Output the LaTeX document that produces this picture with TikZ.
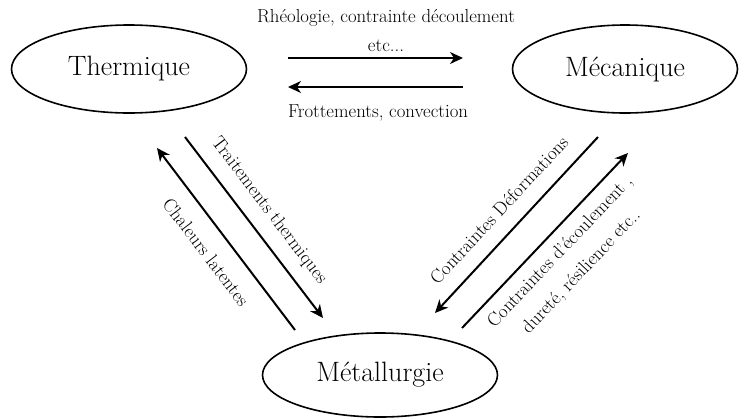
\documentclass[tikz,border=0pt]{standalone}
\usetikzlibrary{shapes.geometric,arrows.meta}
\begin{document}
\begin{tikzpicture}[x=1pt,y=-1pt,
  fieldbox/.style={draw,ellipse,line width=1.6pt,inner sep=0pt,font=\fontsize{28}{33}\selectfont},
  lbl/.style={font=\fontsize{18.8}{23}\selectfont,inner sep=0pt},
  flow/.style={line width=2pt,-{Stealth[length=13pt,width=12pt,inset=4pt]}}]
\useasboundingbox (0,0) rectangle (739,418);
\node[fieldbox,minimum width=235pt,minimum height=88pt] (th) at (129,69) {Thermique};
\node[fieldbox,minimum width=225pt,minimum height=88pt] (me) at (625,69) {Mécanique};
\node[fieldbox,minimum width=235pt,minimum height=84pt] (mt) at (380,375) {Métallurgie};
% top arrows
\coordinate (t1a) at (288,58);  \coordinate (t1b) at (463,58);
\coordinate (t2a) at (463,87);  \coordinate (t2b) at (288,87);
\draw[flow] (t1a) -- (t1b);
\draw[flow] (t2a) -- (t2b);
\node[lbl,anchor=base] (rh) at (386,22) {Rhéologie, contrainte découlement};
\node[lbl,anchor=base] (etc) at (386,51) {etc...};
\node[lbl,anchor=base] (fr) at (378,117) {Frottements, convection};
% left arrows
\coordinate (l1a) at (185,137); \coordinate (l1b) at (323,318);
\coordinate (l2a) at (295,330); \coordinate (l2b) at (157,148);
\draw[flow] (l1a) -- (l1b);
\draw[flow] (l2a) -- (l2b);
\node[lbl,rotate=-52.7] (tt) at (269,211) {Traitements thermiques};
\node[lbl,rotate=-52.7] (cl) at (206,252) {Chaleurs latentes};
% right arrows
\coordinate (r1a) at (598,137); \coordinate (r1b) at (435,313);
\coordinate (r2a) at (462,328); \coordinate (r2b) at (628,153);
\draw[flow] (r1a) -- (r1b);
\draw[flow] (r2a) -- (r2b);
\node[lbl,rotate=47.2] (cd) at (499,210) {Contraintes Déformations};
\node[lbl,rotate=46.5,align=center,font=\fontsize{18.8}{29}\selectfont] (ce) at (571,262) {Contraintes d'écoulement ,\\dureté, résilience etc..};
\end{tikzpicture}
\end{document}
